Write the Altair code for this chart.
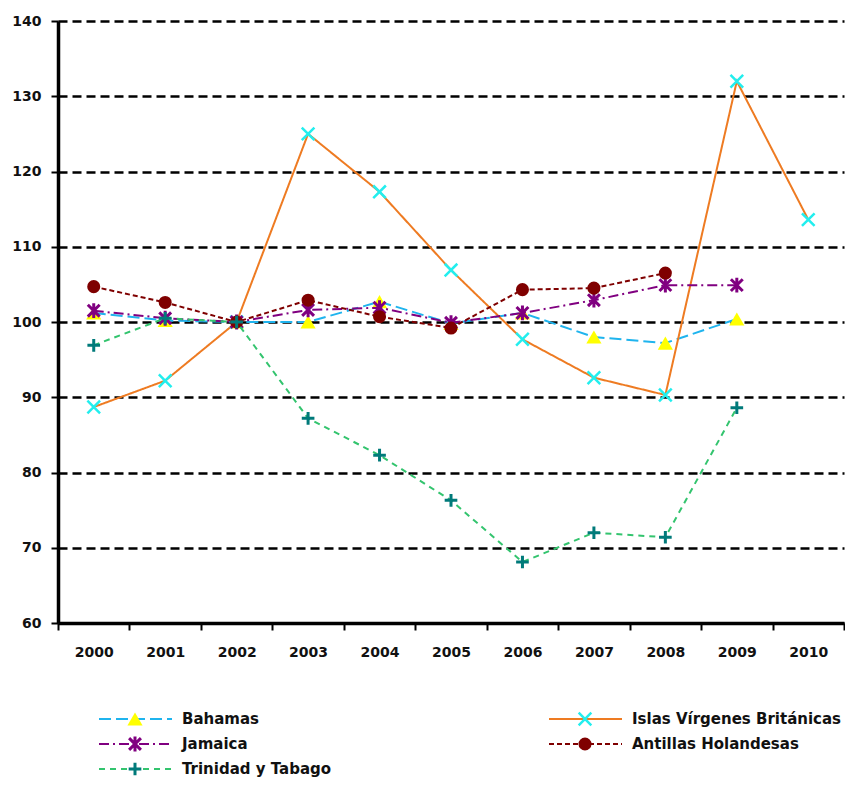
import altair as alt
import pandas as pd

years = ["2000", "2001", "2002", "2003", "2004", "2005", "2006", "2007", "2008", "2009", "2010"]

series_names = ["Bahamas", "Islas Vírgenes Británicas", "Jamaica", "Antillas Holandesas", "Trinidad y Tabago"]

bahamas = [101.2, 100.2, 100.0, 100.0, 102.7, 99.8, 101.2, 98.0, 97.2, 100.4, None]
islas = [88.7, 92.2, 100.0, 125.0, 117.3, 106.9, 97.7, 92.6, 90.3, 132.0, 113.6]
jamaica = [101.5, 100.5, 100.0, 101.6, 101.9, 99.9, 101.2, 102.9, 104.9, 104.9, None]
antillas = [104.7, 102.6, 100.0, 102.9, 100.7, 99.2, 104.3, 104.5, 106.5, None, None]
trinidad = [96.9, 100.5, 100.0, 87.2, 82.3, 76.3, 68.1, 72.0, 71.4, 88.6, None]

y_ticks = [60, 70, 80, 90, 100, 110, 120, 130, 140]

X_PATH = "M-1,-1L1,1M-1,1L1,-1"
STAR_PATH = "M-1,-1L1,1M-1,1L1,-1M0,-1.25L0,1.25"
PLUS_PATH = "M-1,0L1,0M0,-1L0,1"

styles = [
    dict(values=bahamas, line="#1fb4ee", dash=[12, 5], mcolor="#ffff00", shape="triangle-up", filled=True, size=230, sw=0),
    dict(values=islas, line="#ee7b22", dash=[1, 0], mcolor="#22eeee", shape=X_PATH, filled=False, size=160, sw=2.5),
    dict(values=jamaica, line="#800080", dash=[10, 4, 2, 4], mcolor="#800080", shape=STAR_PATH, filled=False, size=140, sw=3),
    dict(values=antillas, line="#7f0000", dash=[5, 3], mcolor="#7f0000", shape="circle", filled=True, size=170, sw=0),
    dict(values=trinidad, line="#33c46e", dash=[6, 5], mcolor="#007a7a", shape=PLUS_PATH, filled=False, size=160, sw=3),
]

FONT = "DejaVu Sans"
TXT = "#111111"

x_scale = alt.Scale(type="band", domain=years, paddingInner=0, paddingOuter=0)
y_scale = alt.Scale(domain=[60, 140], nice=False, zero=False)

main_layers = []
legend_layers = []
for i, (name, st) in enumerate(zip(series_names, styles)):
    df = pd.DataFrame({"year": years, "value": st["values"]}).dropna()
    base = alt.Chart(df).encode(
        x=alt.X("year:O", scale=x_scale, bandPosition=0.5, title=None, sort=years),
        y=alt.Y("value:Q", scale=y_scale, title=None, axis=alt.Axis(values=y_ticks)),
    )
    line = base.mark_line(color=st["line"], strokeDash=st["dash"], strokeWidth=2)
    pts = base.mark_point(
        shape=st["shape"], filled=st["filled"], color=st["mcolor"], size=st["size"],
        strokeWidth=st["sw"], opacity=1,
    )
    main_layers += [line, pts]

    ldf = pd.DataFrame({"name": [name], "col": [i % 2], "row": [i // 2]})
    lbase = alt.Chart(ldf).encode(
        x=alt.X("col:Q", scale=alt.Scale(domain=[0, 1], range=[41, 491], nice=False, zero=False), axis=None),
        y=alt.Y("row:Q", scale=alt.Scale(domain=[0, 2], range=[698, 748], nice=False, zero=False), axis=None),
    )
    lrule = lbase.mark_rule(color=st["line"], strokeDash=st["dash"], strokeWidth=2, x2Offset=73).encode(x2="col:Q")
    lpt = lbase.mark_point(
        shape=st["shape"], filled=st["filled"], color=st["mcolor"], size=st["size"],
        strokeWidth=st["sw"], opacity=1, xOffset=36,
    )
    ltxt = lbase.mark_text(
        align="left", baseline="middle", dx=83, font=FONT, fontWeight="bold", fontSize=15, color=TXT,
    ).encode(text="name:N")
    legend_layers += [lrule, lpt, ltxt]

chart = alt.layer(
    alt.layer(*main_layers),
    alt.layer(*legend_layers),
).resolve_scale(x="independent", y="independent").properties(
    width=786, height=602,
    padding={"left": 3, "top": 6, "right": 0, "bottom": 0},
).configure_view(stroke=None).configure_axis(
    labelFont=FONT, labelFontWeight="bold", labelFontSize=14, labelColor=TXT,
    domainColor="black", tickColor="black",
).configure_axisX(
    grid=False, labelAngle=0, tickBand="extent", tickSize=7, tickWidth=2, domainWidth=3.5, labelPadding=15,
).configure_axisY(
    grid=True, gridColor="black", gridDash=[9, 5], gridWidth=2.5, tickSize=7, tickWidth=2,
    domainWidth=3.5, labelPadding=10,
)

chart.save("out.html", embed_options={"renderer": "svg", "actions": False})
